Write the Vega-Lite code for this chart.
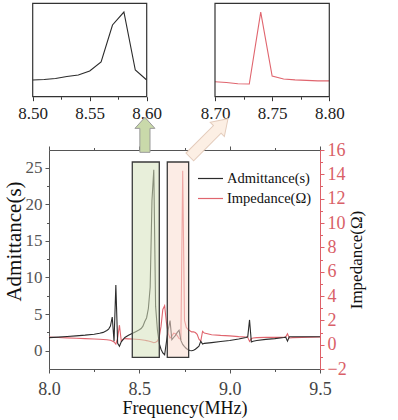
{
  "$schema": "https://vega.github.io/schema/vega-lite/v6.json",
  "width": 271,
  "height": 219,
  "autosize": "none",
  "padding": {"left": 49, "top": 150, "right": 78, "bottom": 51},
  "background": "white",
  "config": {
    "font": "Liberation Serif",
    "view": {"stroke": null},
    "axis": {"grid": false, "labelFlush": false, "labelOverlap": false, "titleFontWeight": "normal", "labelFont": "Liberation Serif", "titleFont": "Liberation Serif", "domainWidth": 1, "tickWidth": 1, "titleColor": "#111"},
    "legend": {"labelFont": "Liberation Serif"}
  },
  "datasets": {
    "sweep": [
      {"f": 8.00, "A": 1.78, "I": 0.62},
      {"f": 8.05, "A": 1.85, "I": 0.59},
      {"f": 8.10, "A": 1.93, "I": 0.56},
      {"f": 8.15, "A": 2.02, "I": 0.53},
      {"f": 8.20, "A": 2.12, "I": 0.50},
      {"f": 8.25, "A": 2.25, "I": 0.47},
      {"f": 8.28, "A": 2.38, "I": 0.44},
      {"f": 8.30, "A": 2.5, "I": 0.42},
      {"f": 8.32, "A": 2.75, "I": 0.40},
      {"f": 8.33, "A": 2.95, "I": 0.38},
      {"f": 8.34, "A": 3.35, "I": 0.36},
      {"f": 8.35, "A": 4.6, "I": 0.30},
      {"f": 8.36, "A": 1.3, "I": 0.22},
      {"f": 8.37, "A": 8.95, "I": 0.05},
      {"f": 8.38, "A": 1.0, "I": 0.55},
      {"f": 8.39, "A": 0.6, "I": 1.6},
      {"f": 8.40, "A": 1.2, "I": 0.3},
      {"f": 8.41, "A": 1.5, "I": 0.45},
      {"f": 8.42, "A": 1.8, "I": 0.5},
      {"f": 8.44, "A": 2.1, "I": 0.48},
      {"f": 8.46, "A": 2.35, "I": 0.46},
      {"f": 8.48, "A": 2.6, "I": 0.44},
      {"f": 8.50, "A": 2.86, "I": 0.42},
      {"f": 8.51, "A": 3.03, "I": 0.40},
      {"f": 8.52, "A": 3.35, "I": 0.38},
      {"f": 8.53, "A": 3.99, "I": 0.36},
      {"f": 8.54, "A": 4.47, "I": 0.33},
      {"f": 8.55, "A": 5.76, "I": 0.30},
      {"f": 8.56, "A": 8.65, "I": 0.26},
      {"f": 8.57, "A": 20.53, "I": 0.22},
      {"f": 8.58, "A": 24.7, "I": 0.16},
      {"f": 8.59, "A": 6.08, "I": 0.2},
      {"f": 8.60, "A": 2.86, "I": 0.3},
      {"f": 8.61, "A": 1.0, "I": 0.6},
      {"f": 8.62, "A": 0.2, "I": 1.5},
      {"f": 8.63, "A": -0.3, "I": 2.9},
      {"f": 8.64, "A": -0.55, "I": 3.2},
      {"f": 8.65, "A": 1.2, "I": 1.8},
      {"f": 8.66, "A": 2.9, "I": 0.9},
      {"f": 8.67, "A": 4.1, "I": 0.55},
      {"f": 8.68, "A": 1.5, "I": 0.7},
      {"f": 8.69, "A": 1.8, "I": 0.95},
      {"f": 8.70, "A": 2.1, "I": 0.89},
      {"f": 8.71, "A": 2.5, "I": 0.74},
      {"f": 8.72, "A": 2.8, "I": 0.50},
      {"f": 8.73, "A": 1.4, "I": 0.45},
      {"f": 8.74, "A": 0.85, "I": 14.3},
      {"f": 8.75, "A": 0.55, "I": 1.99},
      {"f": 8.76, "A": 0.3, "I": 1.42},
      {"f": 8.77, "A": 0.12, "I": 1.24},
      {"f": 8.78, "A": 0.02, "I": 1.14},
      {"f": 8.79, "A": 0.0, "I": 1.05},
      {"f": 8.80, "A": 0.05, "I": 1.05},
      {"f": 8.81, "A": 0.2, "I": 1.0},
      {"f": 8.82, "A": 0.4, "I": 0.85},
      {"f": 8.83, "A": 0.6, "I": 0.45},
      {"f": 8.84, "A": 1.3, "I": 0.3},
      {"f": 8.85, "A": 0.9, "I": 1.1},
      {"f": 8.86, "A": 1.0, "I": 0.95},
      {"f": 8.90, "A": 1.1, "I": 0.82},
      {"f": 8.95, "A": 1.25, "I": 0.76},
      {"f": 9.00, "A": 1.4, "I": 0.72},
      {"f": 9.05, "A": 1.6, "I": 0.66},
      {"f": 9.09, "A": 1.8, "I": 0.63},
      {"f": 9.10, "A": 1.9, "I": 0.6},
      {"f": 9.11, "A": 4.2, "I": 0.27},
      {"f": 9.12, "A": 1.2, "I": 0.5},
      {"f": 9.13, "A": 1.3, "I": 0.55},
      {"f": 9.15, "A": 1.4, "I": 0.58},
      {"f": 9.20, "A": 1.55, "I": 0.6},
      {"f": 9.25, "A": 1.65, "I": 0.6},
      {"f": 9.30, "A": 1.8, "I": 0.6},
      {"f": 9.31, "A": 1.85, "I": 0.62},
      {"f": 9.32, "A": 1.3, "I": 0.9},
      {"f": 9.33, "A": 1.9, "I": 0.55},
      {"f": 9.35, "A": 1.9, "I": 0.58},
      {"f": 9.40, "A": 1.9, "I": 0.6},
      {"f": 9.45, "A": 1.9, "I": 0.62},
      {"f": 9.50, "A": 1.9, "I": 0.63}
    ]
  },
  "layer": [
    {
      "layer": [
        {
          "data": {"name": "sweep"},
          "mark": {"type": "line", "strokeWidth": 1.1},
          "encoding": {
            "x": {"field": "f", "type": "quantitative", "scale": {"domain": [8, 9.5], "nice": false, "zero": false}, "axis": null},
            "y": {
              "field": "I", "type": "quantitative",
              "scale": {"domain": [-2, 16], "nice": false, "zero": false},
              "axis": {
                "orient": "right",
                "values": [-2, -1, 0, 1, 2, 3, 4, 5, 6, 7, 8, 9, 10, 11, 12, 13, 14, 15, 16],
                "labelExpr": "abs(datum.value/2 - round(datum.value/2)) < 0.001 ? format(datum.value, 'd') : ''",
                "tickSize": {"condition": {"test": "abs(datum.value/2 - round(datum.value/2)) < 0.001", "value": 4}, "value": 2.5},
                "domainColor": "#dd6068", "tickColor": "#dd6068", "labelColor": "#d95f68",
                "labelFontSize": 18, "labelPadding": 3,
                "title": "Impedance(Ω)", "titleFontSize": 17, "titleAngle": -90, "titleBaseline": "top", "titlePadding": 2
              }
            },
            "color": {
              "datum": "Impedance(Ω)", "type": "nominal",
              "scale": {"domain": ["Admittance(s)", "Impedance(Ω)"], "range": ["#2b2b2b", "#e0656e"]}
            }
          }
        },
        {
          "layer": [
            {
              "data": {"name": "sweep"},
              "mark": {"type": "line", "strokeWidth": 1.1},
              "encoding": {
                "x": {
                  "field": "f", "type": "quantitative",
                  "scale": {"domain": [8, 9.5], "nice": false, "zero": false},
                  "axis": {
                    "orient": "bottom",
                    "values": [8, 8.25, 8.5, 8.75, 9, 9.25, 9.5],
                    "labelExpr": "abs(datum.value*2 - round(datum.value*2)) < 0.001 ? format(datum.value, '.1f') : ''",
                    "tickSize": {"condition": {"test": "abs(datum.value*2 - round(datum.value*2)) < 0.001", "value": 4}, "value": 2.5},
                    "domainColor": "#555", "tickColor": "#555", "labelColor": "#444",
                    "labelFontSize": 18, "labelPadding": 7,
                    "title": "Frequency(MHz)", "titleFontSize": 18, "titlePadding": 1
                  }
                },
                "y": {
                  "field": "A", "type": "quantitative",
                  "scale": {"domain": [-2.5, 27.4], "nice": false, "zero": false},
                  "axis": {
                    "orient": "left",
                    "values": [0, 2.5, 5, 7.5, 10, 12.5, 15, 17.5, 20, 22.5, 25],
                    "labelExpr": "abs(datum.value/5 - round(datum.value/5)) < 0.001 ? format(datum.value, 'd') : ''",
                    "tickSize": {"condition": {"test": "abs(datum.value/5 - round(datum.value/5)) < 0.001", "value": 4}, "value": 2.5},
                    "domainColor": "#555", "tickColor": "#555", "labelColor": "#555",
                    "labelFontSize": 17, "labelPadding": 3,
                    "title": "Admittance(s)", "titleFontSize": 21, "titlePadding": 1, "titleY": 91
                  }
                },
                "color": {
                  "datum": "Admittance(s)", "type": "nominal",
                  "scale": {"domain": ["Admittance(s)", "Impedance(Ω)"], "range": ["#2b2b2b", "#e0656e"]},
                  "legend": {
                    "title": null, "orient": "none", "legendX": 148, "legendY": 15,
                    "symbolType": "stroke", "symbolSize": 625, "symbolStrokeWidth": 1.2,
                    "labelFontSize": 14.5, "labelColor": "#111", "labelOffset": 3,
                    "rowPadding": -11.5, "padding": 0
                  }
                }
              }
            },
            {
              "data": {"values": [
                {"box": "left", "f1": 8.461, "f2": 8.6105, "a1": -0.9, "a2": 25.76},
                {"box": "right", "f1": 8.6547, "f2": 8.773, "a1": -0.9, "a2": 25.76}
              ]},
              "mark": {"type": "rect", "stroke": "#3a3a3a", "strokeWidth": 1.3, "fillOpacity": 0.55},
              "encoding": {
                "x": {
                  "field": "f1", "type": "quantitative",
                  "scale": {"domain": [8, 9.5], "nice": false, "zero": false},
                  "axis": {
                    "orient": "top",
                    "values": [8, 8.25, 8.5, 8.75, 9, 9.25, 9.5],
                    "labels": false, "title": null,
                    "tickSize": {"condition": {"test": "abs(datum.value*2 - round(datum.value*2)) < 0.001", "value": 4}, "value": 2.5},
                    "domainColor": "#555", "tickColor": "#555"
                  }
                },
                "x2": {"field": "f2"},
                "y": {"field": "a1", "type": "quantitative", "scale": {"domain": [-2.5, 27.4], "nice": false, "zero": false}, "axis": null},
                "y2": {"field": "a2"},
                "fill": {"field": "box", "type": "nominal", "scale": {"domain": ["left", "right"], "range": ["#d5e2bb", "#fadccf"]}, "legend": null}
              }
            },
            {
              "data": {"values": [{"f": 8.531, "A": 29.47}]},
              "mark": {"type": "point", "shape": "M0,-1L0.57,-0.37L0.29,-0.37L0.29,1L-0.29,1L-0.29,-0.37L-0.57,-0.37Z", "size": 1225, "filled": true, "fill": "#c9d9aa", "stroke": "#9a9a9a", "strokeWidth": 1, "opacity": 1},
              "encoding": {
                "x": {"field": "f", "type": "quantitative", "scale": {"domain": [8, 9.5], "nice": false, "zero": false}, "axis": null},
                "y": {"field": "A", "type": "quantitative", "scale": {"domain": [-2.5, 27.4], "nice": false, "zero": false}, "axis": null}
              }
            },
            {
              "data": {"values": [{"f": 8.885, "A": 29.06}]},
              "mark": {"type": "point", "shape": "M0,-1L0.37,-0.44L0.2,-0.44L0.2,1L-0.2,1L-0.2,-0.44L-0.37,-0.44Z", "size": 2916, "angle": 45, "filled": true, "fill": "#fcefe4", "stroke": "#e3cbbb", "strokeWidth": 1, "opacity": 1},
              "encoding": {
                "x": {"field": "f", "type": "quantitative", "scale": {"domain": [8, 9.5], "nice": false, "zero": false}, "axis": null},
                "y": {"field": "A", "type": "quantitative", "scale": {"domain": [-2.5, 27.4], "nice": false, "zero": false}, "axis": null}
              }
            }
          ],
          "resolve": {"axis": {"x": "independent", "y": "independent"}}
        }
      ],
      "resolve": {"scale": {"y": "independent"}, "axis": {"x": "independent", "y": "independent"}}
    },
    {
      "layer": [
        {
          "data": {"name": "sweep"},
          "transform": [{"filter": "datum.f >= 8.4999 && datum.f <= 8.6001"}],
          "mark": {"type": "line", "color": "#2b2b2b", "strokeWidth": 1.1},
          "encoding": {
            "x": {
              "field": "f", "type": "quantitative",
              "scale": {"domain": [8.5, 8.6], "range": [-16.3, 97.7], "nice": false, "zero": false},
              "axis": {
                "orient": "bottom", "offset": -272.3,
                "values": [8.5, 8.525, 8.55, 8.575, 8.6],
                "labelExpr": "abs(datum.value*20 - round(datum.value*20)) < 0.001 ? format(datum.value, '.2f') : ''",
                "tickSize": {"condition": {"test": "abs(datum.value*20 - round(datum.value*20)) < 0.001", "value": 4}, "value": 2.5},
                "domain": false, "title": null, "tickColor": "#333", "labelColor": "#222",
                "labelFontSize": 17, "labelPadding": 5
              }
            },
            "y": {"field": "A", "type": "quantitative", "scale": {"domain": [-2.5, 27.5], "range": [-53.3, -146.7], "nice": false, "zero": false}, "axis": null}
          }
        },
        {
          "data": {"values": [{}]},
          "mark": {"type": "rect", "filled": false, "stroke": "#333", "strokeWidth": 1.2},
          "encoding": {
            "x": {"datum": 8.5, "type": "quantitative", "scale": {"domain": [8.5, 8.6], "range": [-16.3, 97.7], "nice": false, "zero": false}, "axis": null},
            "x2": {"datum": 8.6},
            "y": {"datum": -2.5, "type": "quantitative", "scale": {"domain": [-2.5, 27.5], "range": [-53.3, -146.7], "nice": false, "zero": false}, "axis": null},
            "y2": {"datum": 27.5}
          }
        }
      ],
      "resolve": {"axis": {"x": "independent", "y": "independent"}}
    },
    {
      "layer": [
        {
          "data": {"name": "sweep"},
          "transform": [{"filter": "datum.f >= 8.6999 && datum.f <= 8.8001"}],
          "mark": {"type": "line", "color": "#e0656e", "strokeWidth": 1.1},
          "encoding": {
            "x": {
              "field": "f", "type": "quantitative",
              "scale": {"domain": [8.7, 8.8], "range": [166, 280.3], "nice": false, "zero": false},
              "axis": {
                "orient": "bottom", "offset": -272.3,
                "values": [8.7, 8.725, 8.75, 8.775, 8.8],
                "labelExpr": "abs(datum.value*20 - round(datum.value*20)) < 0.001 ? format(datum.value, '.2f') : ''",
                "tickSize": {"condition": {"test": "abs(datum.value*20 - round(datum.value*20)) < 0.001", "value": 4}, "value": 2.5},
                "domain": false, "title": null, "tickColor": "#333", "labelColor": "#222",
                "labelFontSize": 17, "labelPadding": 5
              }
            },
            "y": {"field": "I", "type": "quantitative", "scale": {"domain": [-2, 16], "range": [-53.3, -146.7], "nice": false, "zero": false}, "axis": null}
          }
        },
        {
          "data": {"values": [{}]},
          "mark": {"type": "rect", "filled": false, "stroke": "#333", "strokeWidth": 1.2},
          "encoding": {
            "x": {"datum": 8.7, "type": "quantitative", "scale": {"domain": [8.7, 8.8], "range": [166, 280.3], "nice": false, "zero": false}, "axis": null},
            "x2": {"datum": 8.8},
            "y": {"datum": -2, "type": "quantitative", "scale": {"domain": [-2, 16], "range": [-53.3, -146.7], "nice": false, "zero": false}, "axis": null},
            "y2": {"datum": 16}
          }
        }
      ],
      "resolve": {"axis": {"x": "independent", "y": "independent"}}
    }
  ],
  "resolve": {"scale": {"x": "independent", "y": "independent"}}
}
